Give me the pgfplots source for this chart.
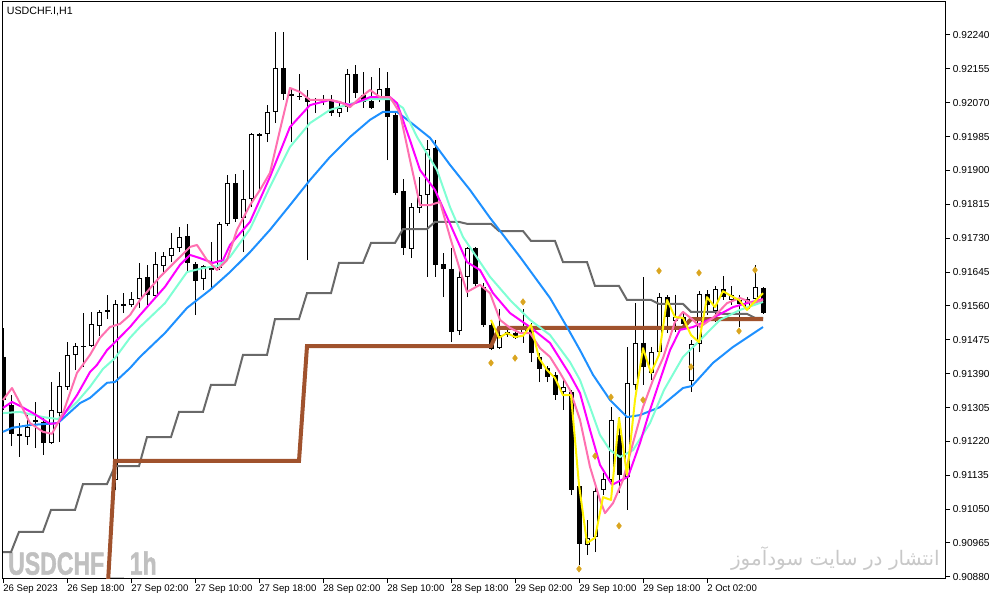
\documentclass[border=0pt]{standalone}
\usepackage{fontspec}
\setmainfont{Liberation Sans}
\newfontfamily\arabicfont[Script=Arabic]{DejaVu Sans}
\newfontfamily\wmfont{Liberation Sans}[BoldFeatures={FakeBold=1.6}]
\usepackage{pgfplots}
\usepackage{pgfplotstable}
\pgfplotsset{compat=1.18}
\TeXXeTstate=1

\definecolor{maBlue}{RGB}{30,144,255}
\definecolor{maAqua}{RGB}{127,255,212}
\definecolor{maMag}{RGB}{255,0,255}
\definecolor{maPink}{RGB}{255,112,176}
\definecolor{stepGray}{RGB}{105,105,105}
\definecolor{stepBrown}{RGB}{160,82,45}
\definecolor{fractal}{RGB}{218,165,32}
\definecolor{wmark}{RGB}{192,192,192}
\definecolor{wmarkfa}{RGB}{200,200,200}

% USDCHF H1 candles: bar, open, high, low, close
\pgfplotstableread{
i o h l c
0 0.91432 0.91505 0.91299 0.91324
1 0.91311 0.91336 0.91208 0.91239
2 0.91239 0.91266 0.91181 0.91234
3 0.91231 0.91286 0.91211 0.91256
4 0.91274 0.91319 0.91203 0.91269
5 0.91269 0.91284 0.91186 0.91216
6 0.91216 0.91369 0.91213 0.91299
7 0.91291 0.91394 0.91218 0.91359
8 0.91357 0.91469 0.91349 0.91437
9 0.91437 0.91467 0.91399 0.91459
10 0.91459 0.91542 0.91407 0.91457
11 0.91459 0.91545 0.91457 0.91515
12 0.91510 0.91550 0.91485 0.91545
13 0.91550 0.91587 0.91527 0.91545
14 0.91123 0.91575 0.91098 0.91565
15 0.91565 0.91592 0.91542 0.91560
16 0.91562 0.91595 0.91557 0.91577
17 0.91577 0.91668 0.91555 0.91630
18 0.91633 0.91663 0.91562 0.91587
19 0.91585 0.91695 0.91582 0.91665
20 0.91660 0.91695 0.91645 0.91685
21 0.91685 0.91743 0.91670 0.91705
22 0.91705 0.91758 0.91695 0.91733
23 0.91736 0.91766 0.91648 0.91668
24 0.91665 0.91670 0.91537 0.91623
25 0.91628 0.91663 0.91600 0.91660
26 0.91650 0.91720 0.91600 0.91655
27 0.91655 0.91771 0.91650 0.91766
28 0.91766 0.91889 0.91761 0.91869
29 0.91869 0.91891 0.91771 0.91778
30 0.91781 0.91901 0.91695 0.91828
31 0.91828 0.91994 0.91808 0.91992
32 0.91992 0.91994 0.91851 0.91987
33 0.91992 0.92064 0.91971 0.92047
34 0.92047 0.92248 0.92019 0.92157
35 0.92157 0.92248 0.92077 0.92092
36 0.92092 0.92107 0.91971 0.92087
37 0.92087 0.92142 0.92077 0.92084
38 0.92082 0.92102 0.91675 0.92072
39 0.92077 0.92082 0.92044 0.92074
40 0.92077 0.92089 0.92064 0.92074
41 0.92077 0.92089 0.92037 0.92044
42 0.92044 0.92072 0.92034 0.92057
43 0.92059 0.92155 0.92047 0.92142
44 0.92142 0.92165 0.92082 0.92094
45 0.92089 0.92147 0.92057 0.92072
46 0.92074 0.92135 0.92054 0.92057
47 0.92077 0.92157 0.92072 0.92105
48 0.92107 0.92147 0.91926 0.92034
49 0.92039 0.92044 0.91838 0.91843
50 0.91848 0.91879 0.91688 0.91705
51 0.91703 0.91818 0.91680 0.91808
52 0.91806 0.91884 0.91793 0.91838
53 0.91838 0.91976 0.91633 0.91954
54 0.91956 0.91976 0.91633 0.91663
55 0.91665 0.91693 0.91582 0.91653
56 0.91653 0.91705 0.91469 0.91495
57 0.91497 0.91655 0.91487 0.91633
58 0.91633 0.91708 0.91582 0.91705
59 0.91705 0.91708 0.91610 0.91615
60 0.91608 0.91618 0.91507 0.91512
61 0.91512 0.91525 0.91449 0.91452
62 0.91454 0.91552 0.91452 0.91487
63 0.91495 0.91502 0.91482 0.91487
64 0.91492 0.91505 0.91477 0.91480
65 0.91490 0.91552 0.91467 0.91502
66 0.91505 0.91517 0.91419 0.91442
67 0.91432 0.91442 0.91369 0.91402
68 0.91404 0.91409 0.91369 0.91382
69 0.91387 0.91394 0.91324 0.91336
70 0.91344 0.91374 0.91299 0.91357
71 0.91344 0.91349 0.91085 0.91098
72 0.91108 0.91111 0.90910 0.90962
73 0.90960 0.91023 0.90935 0.90978
74 0.90980 0.91116 0.90942 0.91095
75 0.91098 0.91141 0.91085 0.91126
76 0.91123 0.91306 0.91118 0.91274
77 0.91236 0.91281 0.91090 0.91136
78 0.91131 0.91457 0.91048 0.91367
79 0.91362 0.91567 0.91349 0.91467
80 0.91467 0.91633 0.91362 0.91407
81 0.91392 0.91457 0.91374 0.91444
82 0.91444 0.91592 0.91437 0.91582
83 0.91582 0.91587 0.91492 0.91532
84 0.91522 0.91587 0.91495 0.91532
85 0.91532 0.91545 0.91512 0.91515
86 0.91372 0.91474 0.91344 0.91464
87 0.91464 0.91597 0.91444 0.91590
88 0.91590 0.91600 0.91537 0.91562
89 0.91547 0.91610 0.91520 0.91603
90 0.91603 0.91635 0.91575 0.91582
91 0.91575 0.91610 0.91562 0.91587
92 0.91575 0.91587 0.91507 0.91565
93 0.91552 0.91582 0.91550 0.91577
94 0.91577 0.91663 0.91575 0.91608
95 0.91605 0.91608 0.91540 0.91542
}\candles

\begin{document}
\begin{tikzpicture}
\useasboundingbox (0,0) rectangle (751.5pt,-452.25pt);

% watermarks behind the chart
\node[anchor=base west, inner sep=0, text=wmark, font=\wmfont\fontsize{24}{24}\selectfont\bfseries, xscale=0.72]
  at (6pt,-431pt) {USDCHF \_ 1h};
\node[anchor=base east, inner sep=0, text=wmarkfa, font=\arabicfont\fontsize{15}{15}\selectfont]
  at (705pt,-424pt) {\beginR انتشار در سایت سودآموز\endR};

\begin{axis}[
  at={(1.5pt,-1.5pt)}, anchor=north west,
  scale only axis, width=707.25pt, height=432pt,
  xmin=-0.125, xmax=117.75, ymin=0.908771, ymax=0.923228,
  axis line style={line width=0.75pt},
  xtick={0,8,...,88},
  xticklabels={26 Sep 2023,26 Sep 18:00,27 Sep 02:00,27 Sep 10:00,27 Sep 18:00,28 Sep 02:00,28 Sep 10:00,28 Sep 18:00,29 Sep 02:00,29 Sep 10:00,29 Sep 18:00,2 Oct 02:00},
  ytick={0.9088,0.90965,0.9105,0.91135,0.9122,0.91305,0.9139,0.91475,0.9156,0.91645,0.9173,0.91815,0.919,0.91985,0.9207,0.92155,0.9224},
  yticklabels={0.90880,0.90965,0.91050,0.91135,0.91220,0.91305,0.91390,0.91475,0.91560,0.91645,0.91730,0.91815,0.91900,0.91985,0.92070,0.92155,0.92240},
  xtick pos=bottom, ytick pos=right, tick align=outside,
  major tick length=3.75pt,
  tick style={black, line width=0.75pt},
  every tick label/.append style={inner sep=1pt},
  xticklabel style={anchor=north west, xshift=-1pt, font=\fontsize{7.2}{8}\selectfont},
  yticklabel style={anchor=west, xshift=1pt, font=\fontsize{7.6}{8}\selectfont},
]
% wicks
\addplot[black, line width=0.75pt, quiver={u=0, v=\thisrow{h}-\thisrow{l}}] table[x=i, y=l] {\candles};
% bodies
\addplot[black, line width=3.75pt, quiver={u=0, v=\thisrow{c}-\thisrow{o}}] table[x=i, y=o] {\candles};
\addplot[white, line width=2.25pt,
  quiver={u=0, v=\thisrow{c}-\thisrow{o}, every arrow/.append style={shorten <=0.75pt, shorten >=0.75pt}},
  x filter/.expression={\thisrow{c}>\thisrow{o} ? x : nan}] table[x=i, y=o] {\candles};

% gray step line
\addplot[stepGray, line width=1.5pt] coordinates {
(0,0.90942) (1,0.90942) (2,0.90993) (5,0.90993) (6,0.91048) (9,0.91048) (10,0.91113) (13,0.91113)
(14,0.91158) (17,0.91158) (18,0.91231) (21,0.91231) (22,0.91294) (25,0.91294) (26,0.91362) (29,0.91362)
(30,0.91437) (33,0.91437) (34,0.91527) (37,0.91527) (38,0.91592) (41,0.91592) (42,0.91668) (45,0.91668)
(46,0.91718) (49,0.91718) (50,0.91753) (53,0.91753) (54,0.91771) (57,0.91771) (58,0.91766) (61,0.91766)
(62,0.91748) (65,0.91748) (66,0.91723) (69,0.91723) (70,0.91670) (73,0.91670) (74,0.91610) (77,0.91610)
(78,0.91575) (81,0.91575) (82,0.91565) (85,0.91565) (86,0.91545) (89,0.91545) (90,0.91540) (93,0.91540)
(94,0.91530) (95,0.91530)};
% brown step line
\addplot[stepBrown, line width=3pt] coordinates {
(13,0.90822) (14,0.91171) (37,0.91171) (38,0.91459) (61,0.91459) (62,0.91505) (85,0.91505) (86,0.91527) (95,0.91527)};
% blue
\addplot[maBlue, line width=1.5pt, line join=round] coordinates {
(0,0.91244) (1.125,0.91254) (3.375,0.91261) (6.875,0.91266) (9.625,0.91316) (10.875,0.91329) (13,0.91367)
(14,0.91369) (15.875,0.91404) (17.125,0.91432) (20.25,0.91492) (23,0.91555) (25.875,0.91600) (28.375,0.91645)
(30.875,0.91695) (33.375,0.91751) (35.875,0.91813) (38.375,0.91876) (40.875,0.91934) (43.375,0.91984)
(45.875,0.92027) (47.5,0.92047) (49.25,0.92047) (50.875,0.92022) (53.375,0.91982) (55.875,0.91914)
(58.375,0.91851) (60.875,0.91781) (64.625,0.91683) (68.375,0.91580) (70.5,0.91507) (72.125,0.91449)
(73.75,0.91387) (75.875,0.91324) (78,0.91281) (79.625,0.91286) (82.125,0.91306) (85,0.91354)
(86.125,0.91359) (88.75,0.91417) (91.25,0.91457) (95,0.91507)};
% aquamarine
\addplot[maAqua, line width=1.5pt, line join=round] coordinates {
(0,0.91291) (2.125,0.91294) (5,0.91281) (6.875,0.91276) (9.25,0.91319) (10.875,0.91357) (12.5,0.91402)
(14,0.91429) (15.875,0.91480) (17.125,0.91507) (20.25,0.91567) (23,0.91645) (25,0.91655) (26.75,0.91660)
(28.375,0.91683) (30.875,0.91753) (33.375,0.91859) (35.875,0.91959) (38.375,0.92019) (40.875,0.92052)
(43.375,0.92067) (45.875,0.92079) (48.375,0.92079) (50,0.92057) (51.75,0.91984) (54.25,0.91901)
(55.875,0.91808) (57.5,0.91733) (59.625,0.91670) (60.875,0.91633) (63.375,0.91575) (65.875,0.91525)
(68.375,0.91487) (70.875,0.91419) (72.125,0.91374) (73.375,0.91306) (74.625,0.91236) (75.875,0.91198)
(77.125,0.91181) (78.75,0.91198) (80.875,0.91266) (82.625,0.91349) (85,0.91432) (87.125,0.91474)
(89.625,0.91525) (92.125,0.91550) (95,0.91570)};
% magenta
\addplot[maMag, line width=1.5pt, line join=round] coordinates {
(0,0.91304) (1.125,0.91319) (2.125,0.91309) (3.75,0.91291) (5.875,0.91264) (6.875,0.91266) (9.25,0.91336)
(10.875,0.91394) (11.75,0.91412) (13,0.91449) (14,0.91469) (15.875,0.91507) (17.125,0.91537) (20.25,0.91608)
(22.125,0.91663) (23.375,0.91688) (24.625,0.91680) (26.25,0.91668) (27.5,0.91675) (28.375,0.91713)
(30.875,0.91771) (33.375,0.91884) (35.875,0.92009) (38.375,0.92064) (40.875,0.92077) (43.375,0.92064)
(45.875,0.92084) (48.375,0.92084) (49.25,0.92069) (50.875,0.91976) (52.125,0.91901) (54,0.91851)
(55.5,0.91783) (58,0.91670) (59.625,0.91650) (61.25,0.91592) (63.375,0.91542) (65.875,0.91507)
(68.375,0.91467) (70.875,0.91387) (72.125,0.91341) (73.375,0.91249) (74.625,0.91161) (76.125,0.91111)
(78.125,0.91131) (79.625,0.91216) (80.875,0.91299) (82.125,0.91374) (83.375,0.91449) (84.625,0.91500)
(86.25,0.91507) (88.75,0.91530) (91.25,0.91557) (93,0.91567) (95,0.91577)};
% pink
\addplot[maPink, line width=1.5pt, line join=round] coordinates {
(0,0.91324) (1.125,0.91354) (2.125,0.91316) (3.375,0.91266) (5,0.91244) (6.125,0.91239) (7.5,0.91291)
(9.25,0.91392) (10.875,0.91437) (12.125,0.91480) (13.375,0.91507) (14.625,0.91515) (15.875,0.91537)
(17.125,0.91575) (19.625,0.91633) (22.125,0.91683) (23.375,0.91708) (24.25,0.91713) (25.5,0.91675)
(26.75,0.91650) (28,0.91675) (29.25,0.91751) (30.875,0.91813) (32.125,0.91851) (33.375,0.91894)
(34.625,0.92002) (35.875,0.92107) (37.125,0.92097) (38.375,0.92077) (40.875,0.92077) (42.125,0.92072)
(43.375,0.92059) (44.625,0.92082) (45.875,0.92102) (47.125,0.92084) (48.375,0.92084) (49.625,0.92044)
(50.875,0.91926) (52.125,0.91813) (53.375,0.91813) (54.625,0.91821) (55.875,0.91733) (57.125,0.91650)
(58,0.91595) (59.625,0.91613) (60.875,0.91592) (62.125,0.91525) (63.375,0.91505) (64.625,0.91492)
(65.875,0.91492) (67.125,0.91454) (68.375,0.91432) (69.625,0.91392) (70.875,0.91349) (72.125,0.91274)
(73.375,0.91156) (74.625,0.91073) (75.25,0.91040) (76.25,0.91065) (77.5,0.91123) (78.75,0.91216)
(80,0.91306) (81.25,0.91374) (82.5,0.91429) (84,0.91520) (85,0.91545) (86.25,0.91525) (87.125,0.91507)
(88.75,0.91530) (90.5,0.91567) (92.125,0.91580) (93.75,0.91567) (95,0.91575)};
% yellow
\addplot[yellow, line width=1.5pt, line join=round] coordinates {
(61,0.91525) (62,0.91480) (63,0.91492) (64,0.91482) (65,0.91485) (66,0.91512) (67,0.91429) (68,0.91399)
(69,0.91379) (70,0.91336) (71,0.91336) (72,0.91111) (73,0.90965) (74,0.90978) (75,0.91080) (76,0.91073)
(77,0.91279) (78,0.91136) (79,0.91324) (80,0.91454) (81,0.91392) (82,0.91437) (83,0.91575) (84,0.91532)
(85,0.91530) (86,0.91487) (87,0.91469) (88,0.91582) (89,0.91557) (90,0.91597) (91,0.91585) (92,0.91575)
(93,0.91550) (94,0.91572) (95,0.91592)};
% fractal diamonds
\addplot[only marks, mark=diamond*, mark size=2.4pt, mark options={fill=fractal, draw=fractal}] coordinates {
(61,0.91417) (64,0.91429) (65,0.91570) (72,0.90900) (74,0.91183) (76,0.91331) (77,0.91008)
(80,0.91324) (82,0.91648) (86,0.91407) (87,0.91643) (92,0.91497) (94,0.91650)};
\end{axis}

\node[anchor=west, inner sep=0, font=\fontsize{8}{9}\selectfont] at (5pt,-8.25pt) {USDCHF.I,H1};
\end{tikzpicture}
\end{document}
